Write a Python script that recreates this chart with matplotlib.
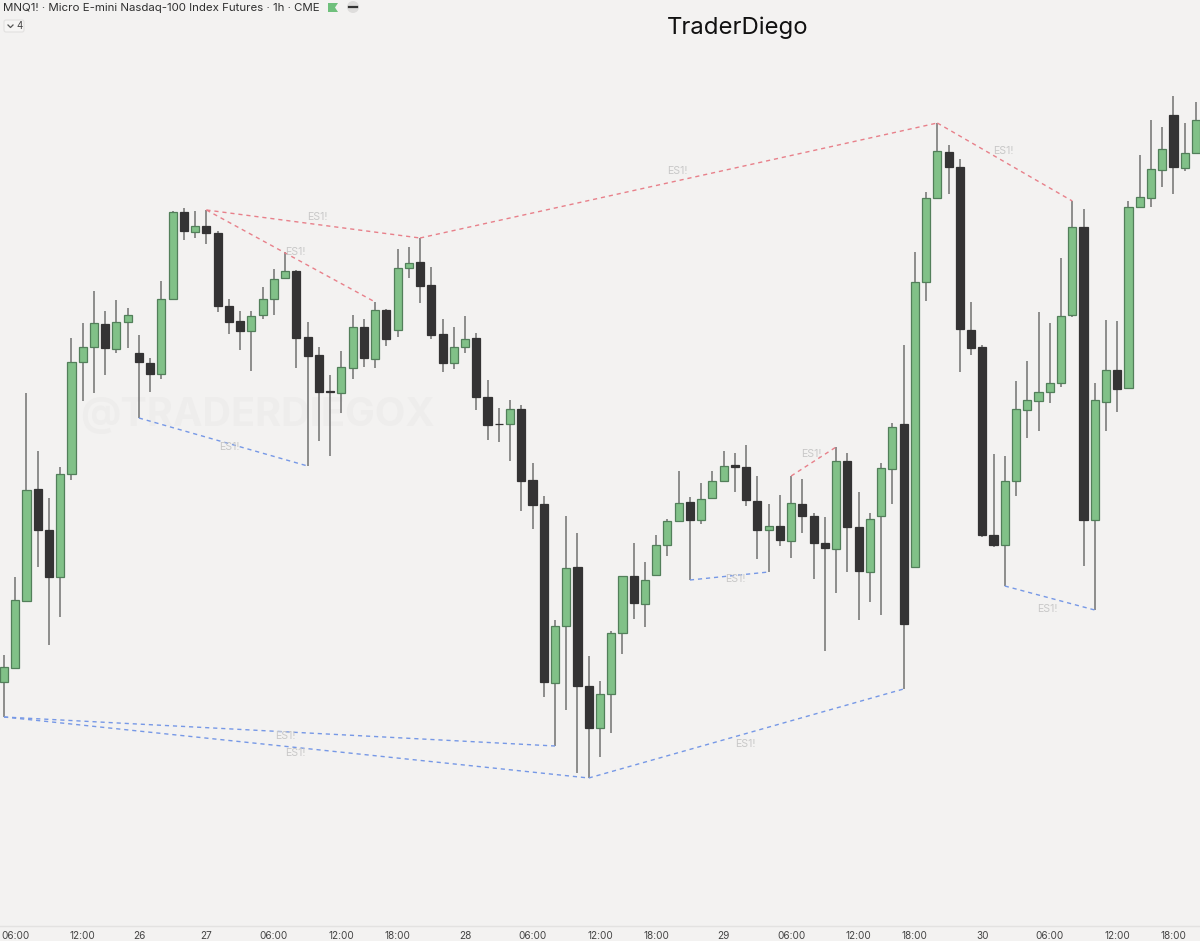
import matplotlib
matplotlib.use("Agg")
import matplotlib.pyplot as plt
from matplotlib.patches import Circle, FancyBboxPatch, Polygon

plt.rcParams['font.family'] = ['Inter', 'DejaVu Sans']

BG = '#f3f2f1'
GREEN = '#81c188'
GREEN_EDGE = '#527f5a'
DARK = '#343334'
WICK = '#717171'
RED_LINE = '#e8808a'
BLUE_LINE = '#7698e6'

# hourly candles, price (arbitrary units, axis has no scale)
opens = [259, 273, 340, 452, 411, 364, 467, 579, 594, 617, 592, 619, 588, 578, 567, 642, 729, 709, 715, 708,
         635, 620, 610, 626, 642, 663, 670, 604, 586, 550, 548, 573, 614, 582, 631, 611, 673, 679, 656, 607,
         578, 594, 603, 544, 517, 517, 532, 461, 437, 258, 315, 374, 255, 213, 247, 308, 365, 337, 366, 396,
         420, 439, 421, 443, 460, 476, 474, 440, 411, 415, 400, 437, 425, 398, 392, 480, 414, 369, 425, 472,
         517, 374, 659, 743, 789, 774, 611, 594, 406, 396, 460, 531, 540, 549, 558, 626, 714, 421, 539, 571,
         553, 734, 743, 771, 826, 773, 788]
highs = [286, 364, 548, 490, 443, 474, 603, 618, 650, 630, 641, 633, 606, 583, 660, 730, 733, 730, 731, 710,
         642, 630, 630, 654, 672, 689, 671, 619, 594, 566, 590, 626, 622, 639, 632, 692, 694, 703, 674, 622,
         614, 625, 608, 561, 533, 541, 536, 478, 445, 321, 425, 408, 285, 260, 310, 365, 398, 379, 406, 422,
         470, 444, 458, 470, 490, 488, 496, 465, 437, 446, 465, 462, 428, 424, 494, 488, 449, 428, 478, 518,
         596, 689, 749, 818, 796, 782, 639, 596, 487, 485, 560, 580, 629, 618, 683, 740, 732, 558, 621, 620,
         740, 786, 821, 814, 845, 818, 839]
lows = [224, 273, 340, 374, 296, 324, 461, 540, 548, 566, 588, 593, 523, 549, 562, 642, 701, 703, 697, 629,
        607, 591, 570, 622, 626, 663, 573, 475, 500, 485, 528, 562, 574, 573, 595, 604, 663, 638, 602, 569,
        572, 588, 531, 501, 499, 480, 430, 412, 244, 195, 231, 168, 163, 184, 208, 287, 322, 314, 366, 385,
        420, 361, 417, 443, 460, 449, 435, 382, 369, 395, 383, 408, 362, 290, 348, 369, 321, 339, 326, 437,
        252, 374, 640, 743, 747, 569, 586, 404, 394, 355, 445, 503, 510, 538, 554, 624, 375, 331, 510, 529,
        553, 734, 734, 754, 747, 770, 787]
closes = [274, 341, 451, 411, 364, 467, 579, 594, 618, 593, 619, 626, 579, 567, 642, 729, 710, 715, 708, 635,
          619, 610, 625, 642, 662, 670, 603, 585, 549, 549, 574, 614, 583, 631, 602, 673, 678, 655, 606, 578,
          594, 602, 544, 516, 517, 532, 460, 436, 259, 315, 373, 255, 213, 247, 308, 365, 338, 361, 396, 420,
          438, 421, 442, 460, 475, 474, 441, 411, 415, 401, 438, 425, 398, 393, 480, 414, 370, 422, 473, 514,
          317, 659, 743, 790, 774, 612, 593, 406, 396, 460, 532, 541, 549, 558, 625, 714, 421, 541, 571, 552,
          734, 744, 772, 792, 774, 788, 821]

# (candle, candle) pairs joined by the ES1! divergence lines
red_pairs = [(18, 37), (18, 33), (37, 83), (83, 95), (70, 74)]
blue_pairs = [(0, 49), (0, 52), (52, 80), (12, 27), (61, 68), (89, 97)]

label_x = [27.9, 25.9, 59.9, 88.9, 20, 25, 25.9, 65.9, 65, 71.8, 92.8]
label_y = [724, 689, 770, 790, 494, 205, 188, 197, 362, 487, 332]

tick_pos = [1, 7, 12, 18, 24, 30, 35, 41, 47, 53, 58, 64, 70, 76, 81, 87, 93, 99, 104]
tick_labels = ['06:00', '12:00', '26', '27', '06:00', '12:00', '18:00', '28', '06:00', '12:00', '18:00',
               '29', '06:00', '12:00', '18:00', '30', '06:00', '12:00', '18:00']


def draw_candles(ax):
    xs = list(range(len(opens)))
    colors = [GREEN if c > o else DARK for o, c in zip(opens, closes)]
    edges = [GREEN_EDGE if c > o else DARK for o, c in zip(opens, closes)]
    bottoms = [min(o, c) for o, c in zip(opens, closes)]
    heights = [abs(c - o) for o, c in zip(opens, closes)]
    ax.vlines(xs, lows, highs, color=WICK, linewidth=1.1, zorder=2)
    ax.bar(xs, heights, bottom=bottoms, width=0.72, color=colors, edgecolor=edges, linewidth=0.9, zorder=3)


def draw_divergences(ax):
    for a, b in red_pairs:
        ax.plot([a, b], [highs[a], highs[b]], color=RED_LINE, linewidth=1.0, linestyle=(0, (3, 2.8)), zorder=4)
    for a, b in blue_pairs:
        ax.plot([a, b], [lows[a], lows[b]], color=BLUE_LINE, linewidth=1.0, linestyle=(0, (3, 2.8)), zorder=4)
    for x, y in zip(label_x, label_y):
        ax.text(x, y, 'ES1!', color='#c8c8c8', fontsize=7.6, ha='center', va='center', zorder=5)


def draw_header(fig):
    # overlay in picture pixels for the TradingView header bits
    over = fig.add_axes([0, 0, 1, 1], facecolor='none')
    over.set_xlim(0, 1200)
    over.set_ylim(941, 0)
    over.axis('off')
    over.text(3, 7.5, 'MNQ1! · Micro E-mini Nasdaq-100 Index Futures · 1h · CME', fontsize=8.25,
              color='#2f2f2f', va='center', ha='left')
    over.add_patch(Polygon([(328, 3), (338, 3), (335, 7.5), (338, 12), (328, 12)], color='#6fc07c', lw=0))
    over.add_patch(Circle((353, 7), 6, color='#dedddc', lw=0))
    over.plot([349, 357], [7, 7], color='#333333', linewidth=1.6)
    over.add_patch(FancyBboxPatch((4, 20), 20, 12, boxstyle='round,pad=0,rounding_size=2',
                                  facecolor='#f6f5f4', edgecolor='#e2e1e0', linewidth=0.8))
    over.plot([8, 10.5, 13], [25, 27.5, 25], color='#555555', linewidth=0.9)
    over.text(19.5, 26, '4', fontsize=7, color='#444444', ha='center', va='center')
    over.text(737.5, 27.5, 'TraderDiego', fontsize=17.2, color='#111111', ha='center', va='center')
    over.text(257, 415, '@TRADERDIEGOX', fontsize=28.5, fontweight='bold', color='#eeedec',
              ha='center', va='center', zorder=0)


def main():
    fig = plt.figure(figsize=(12, 9.41), dpi=100, facecolor=BG)
    draw_header(fig)

    ax = fig.add_axes([0, 0, 1, 1], facecolor='none')
    ax.set_xlim(-0.356, 106.36)
    ax.set_ylim(0, 941)
    for spine in ax.spines.values():
        spine.set_visible(False)
    ax.set_yticks([])
    ax.set_xticks(tick_pos)
    ax.set_xticklabels(tick_labels, fontsize=7.2, color='#444444')
    ax.tick_params(axis='x', direction='in', length=0, pad=-7)
    ax.axhline(15, color='#e3e2e1', linewidth=1.0)

    draw_candles(ax)
    draw_divergences(ax)

    fig.savefig('out.png', dpi=100, facecolor=BG)


if __name__ == '__main__':
    main()
